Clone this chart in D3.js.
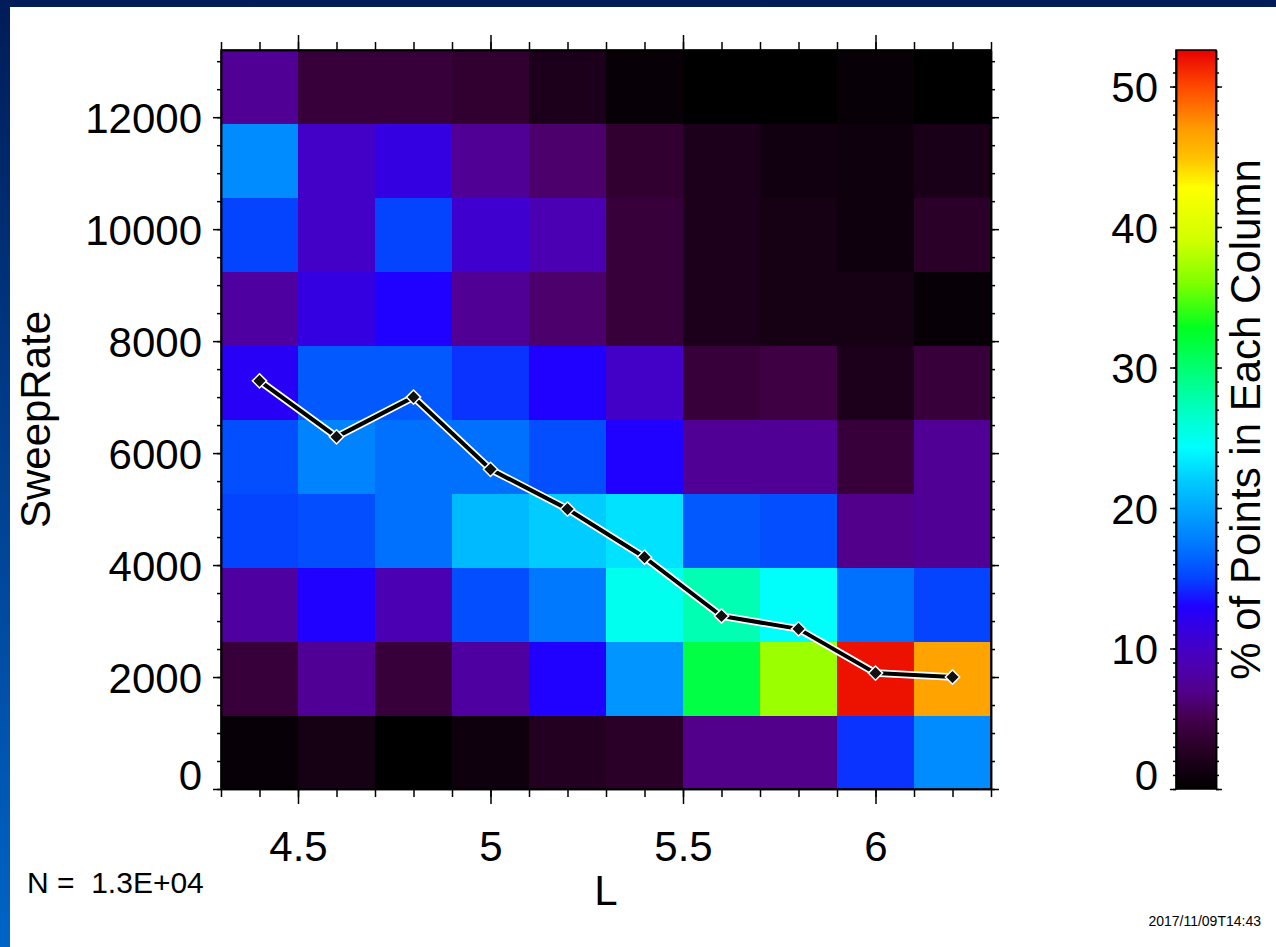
<!DOCTYPE html>
<html>
<head>
<meta charset="utf-8">
<script src="https://cdn.jsdelivr.net/npm/d3@7"></script>
<style>
  html, body { margin: 0; padding: 0; background: #fff; overflow: hidden; }
  svg { display: block; font-family: "Liberation Sans", Arial, sans-serif; }
  .axis path, .axis line { stroke: #000; stroke-width: 1.5; }
  .axis text { font-size: 42px; fill: #000; font-family: "Liberation Sans", Arial, sans-serif; }
</style>
</head>
<body>
<svg id="chart" width="1276" height="947"></svg>
<script>
// L bins and SweepRate bins (edges)
const lEdges = [4.3, 4.5, 4.7, 4.9, 5.1, 5.3, 5.5, 5.7, 5.9, 6.1, 6.3];
const sweepEdges = [0, 1320, 2640, 3960, 5280, 6600, 7920, 9240, 10560, 11880, 13200];

// % of points in each column, one array per L bin, bottom -> top
const pctL44 = [0.5, 4, 8, 15, 15.5, 12.5, 8, 15, 18.5, 7.5];
const pctL46 = [1.5, 7.5, 13, 15.5, 18, 16, 11.5, 10, 10, 4];
const pctL48 = [0, 4, 9, 17, 17, 16, 13, 15, 11.5, 4];
const pctL50 = [1, 8, 15.5, 21, 17, 14.5, 7.5, 10.5, 7.5, 3.5];
const pctL52 = [2.5, 13, 17.5, 22, 15.5, 13, 6, 9, 6, 2];
const pctL54 = [3, 19, 25, 23, 13, 10, 4, 4, 3.5, 0.5];
const pctL56 = [7, 31.5, 27.5, 16, 7.5, 4, 2, 2, 2, 0];
const pctL58 = [7, 37, 24.5, 15.5, 7.5, 4.5, 1.5, 1.5, 1.2, 0];
const pctL60 = [14.5, 52, 17, 7, 4, 2, 1.5, 1, 1, 0.5];
const pctL62 = [18.5, 46.6, 15, 7.5, 7.5, 4, 0.5, 3, 1.8, 0];
const pctColumns = [pctL44, pctL46, pctL48, pctL50, pctL52, pctL54, pctL56, pctL58, pctL60, pctL62];

// median SweepRate per L bin
const medianL = [4.4, 4.6, 4.8, 5.0, 5.2, 5.4, 5.6, 5.8, 6.0, 6.2];
const medianSweep = [7290, 6290, 7000, 5710, 5000, 4140, 3090, 2860, 2070, 2000];

// tick labels
const xTicks = [4.5, 5, 5.5, 6];
const yTicks = [0, 2000, 4000, 6000, 8000, 10000, 12000];
const cTicks = [0, 10, 20, 30, 40, 50];
const colorMax = 52.6;

// colour table (value -> colour)
const cmapValues = [0, 3, 5, 7, 9, 11, 13, 15, 17, 20, 22, 24.3, 27, 30, 32.8, 36, 39, 42.8, 45, 47, 50, 52.6];
const cmapColors = ["#000000", "#2a0028", "#44004c", "#52008c", "#4c00b4", "#3a00d8", "#2000ff",
  "#0444ff", "#0070ff", "#00a8ff", "#00ccff", "#00ffff", "#00ffc0", "#00ff70", "#00ff20",
  "#80ff00", "#d0ff00", "#ffff00", "#ffc000", "#ff9c00", "#ff4800", "#e80000"];

const svg = d3.select("#chart");
const W = 1276, H = 947;

// frame
const defs = svg.append("defs");
const frameGrad = defs.append("linearGradient")
  .attr("id", "frameGrad").attr("x1", 0).attr("y1", 0).attr("x2", 0).attr("y2", 1);
frameGrad.append("stop").attr("offset", "0%").attr("stop-color", "#001c58");
frameGrad.append("stop").attr("offset", "100%").attr("stop-color", "#0064c8");
svg.append("rect").attr("width", W).attr("height", H).attr("fill", "url(#frameGrad)");
svg.append("rect").attr("x", 10).attr("y", 7).attr("width", W - 10).attr("height", H - 7).attr("fill", "#fff");

// plot area
const plot = { left: 221, right: 991, top: 50, bottom: 789 };
const x = d3.scaleLinear().domain([lEdges[0], lEdges[lEdges.length - 1]]).range([plot.left, plot.right]);
const y = d3.scaleLinear().domain([sweepEdges[0], sweepEdges[sweepEdges.length - 1]]).range([plot.bottom, plot.top]);
const color = d3.scaleLinear().domain(cmapValues).range(cmapColors).interpolate(d3.interpolateRgb).clamp(true);

// cells
const cells = [];
pctColumns.forEach((col, i) => {
  col.forEach((v, j) => {
    cells.push({ l0: lEdges[i], l1: lEdges[i + 1], s0: sweepEdges[j], s1: sweepEdges[j + 1], v: v });
  });
});

svg.append("g").selectAll("rect")
  .data(cells)
  .join("rect")
  .attr("x", d => x(d.l0))
  .attr("y", d => y(d.s1))
  .attr("width", d => x(d.l1) - x(d.l0) + 0.5)
  .attr("height", d => y(d.s0) - y(d.s1) + 0.5)
  .attr("fill", d => color(d.v))
  .attr("shape-rendering", "crispEdges");

// axes: minor and major ticks on all four sides
function axis(gen, tx, ty, values, size, fmt) {
  const g = svg.append("g")
    .attr("class", "axis")
    .attr("transform", `translate(${tx},${ty})`)
    .call(gen.tickValues(values).tickSize(size).tickSizeOuter(0).tickFormat(fmt || ""));
  return g;
}

const xMinor = d3.range(43, 64).map(d => d / 10);
const yMinor = d3.range(0, 13001, 500);

axis(d3.axisBottom(x), 0, plot.bottom, xMinor, 8);
axis(d3.axisTop(x), 0, plot.top, xMinor, 8);
axis(d3.axisTop(x), 0, plot.top, xTicks, 15);
const xAx = axis(d3.axisBottom(x), 0, plot.bottom, xTicks, 15, d3.format("")).call(g => g.selectAll("text").attr("dy", "1.15em"));
xAx.selectAll(".tick text").attr("y", 24);

axis(d3.axisLeft(y), plot.left, 0, yMinor, 4);
axis(d3.axisRight(y), plot.right, 0, yMinor, 4);
axis(d3.axisRight(y), plot.right, 0, yTicks, 8);
const yAx = axis(d3.axisLeft(y), plot.left, 0, yTicks, 8, d3.format("d"));
yAx.selectAll(".tick text").attr("x", -19).attr("dy", d => d === 0 ? "0.0em" : "0.36em");

svg.append("rect")
  .attr("x", plot.left).attr("y", plot.top)
  .attr("width", plot.right - plot.left).attr("height", plot.bottom - plot.top)
  .attr("fill", "none").attr("stroke", "#000").attr("stroke-width", 1.5);

// median line
const pts = medianL.map((l, i) => [x(l), y(medianSweep[i])]);
const line = d3.line();
svg.append("path").attr("d", line(pts))
  .attr("fill", "none").attr("stroke", "#fff").attr("stroke-width", 7.5).attr("stroke-linejoin", "round");
svg.append("path").attr("d", line(pts))
  .attr("fill", "none").attr("stroke", "#000").attr("stroke-width", 4).attr("stroke-linejoin", "round");
const diamond = d3.symbol().type(d3.symbolDiamond2).size(130);
svg.append("g").selectAll("path")
  .data(pts)
  .join("path")
  .attr("transform", d => `translate(${d[0]},${d[1]})`)
  .attr("d", diamond)
  .attr("fill", "#111").attr("stroke", "#fff").attr("stroke-width", 1.5);

// axis titles
svg.append("text")
  .attr("x", (plot.left + plot.right) / 2).attr("y", 905)
  .attr("text-anchor", "middle").attr("font-size", 42).text("L");
svg.append("text")
  .attr("transform", `translate(50,${(plot.top + plot.bottom) / 2}) rotate(-90)`)
  .attr("text-anchor", "middle").attr("font-size", 42).text("SweepRate");

// colour bar
const cb = { left: 1176, right: 1216, top: 50, bottom: 789 };
const cy = d3.scaleLinear().domain([0, colorMax]).range([cb.bottom, cb.top]);
const cbGrad = defs.append("linearGradient")
  .attr("id", "cbGrad").attr("x1", 0).attr("y1", 1).attr("x2", 0).attr("y2", 0);
cbGrad.selectAll("stop")
  .data(cmapValues)
  .join("stop")
  .attr("offset", d => (d / colorMax * 100) + "%")
  .attr("stop-color", d => color(d));
svg.append("rect")
  .attr("x", cb.left).attr("y", cb.top)
  .attr("width", cb.right - cb.left).attr("height", cb.bottom - cb.top)
  .attr("fill", "url(#cbGrad)").attr("stroke", "#000").attr("stroke-width", 1.5);

const cMinor = d3.range(0, 53, 1);
axis(d3.axisLeft(cy), cb.left, 0, cMinor, 3);
axis(d3.axisRight(cy), cb.right, 0, cMinor, 3);
axis(d3.axisRight(cy), cb.right, 0, cTicks, 6);
const cAx = axis(d3.axisLeft(cy), cb.left, 0, cTicks, 6, d3.format("d"));
cAx.selectAll(".tick text").attr("x", -18).attr("dy", d => d === 0 ? "0.0em" : "0.36em");
svg.selectAll(".axis path.domain").attr("stroke", "none");

svg.append("text")
  .attr("transform", `translate(1260,${(cb.top + cb.bottom) / 2}) rotate(-90)`)
  .attr("text-anchor", "middle").attr("font-size", 42).text("% of Points in Each Column");

// annotations
svg.append("text").attr("x", 27).attr("y", 893).attr("font-size", 30)
  .style("white-space", "pre").text("N =  1.3E+04");
svg.append("text").attr("x", 1261).attr("y", 926).attr("text-anchor", "end")
  .attr("font-size", 14).text("2017/11/09T14:43");
</script>
</body>
</html>
